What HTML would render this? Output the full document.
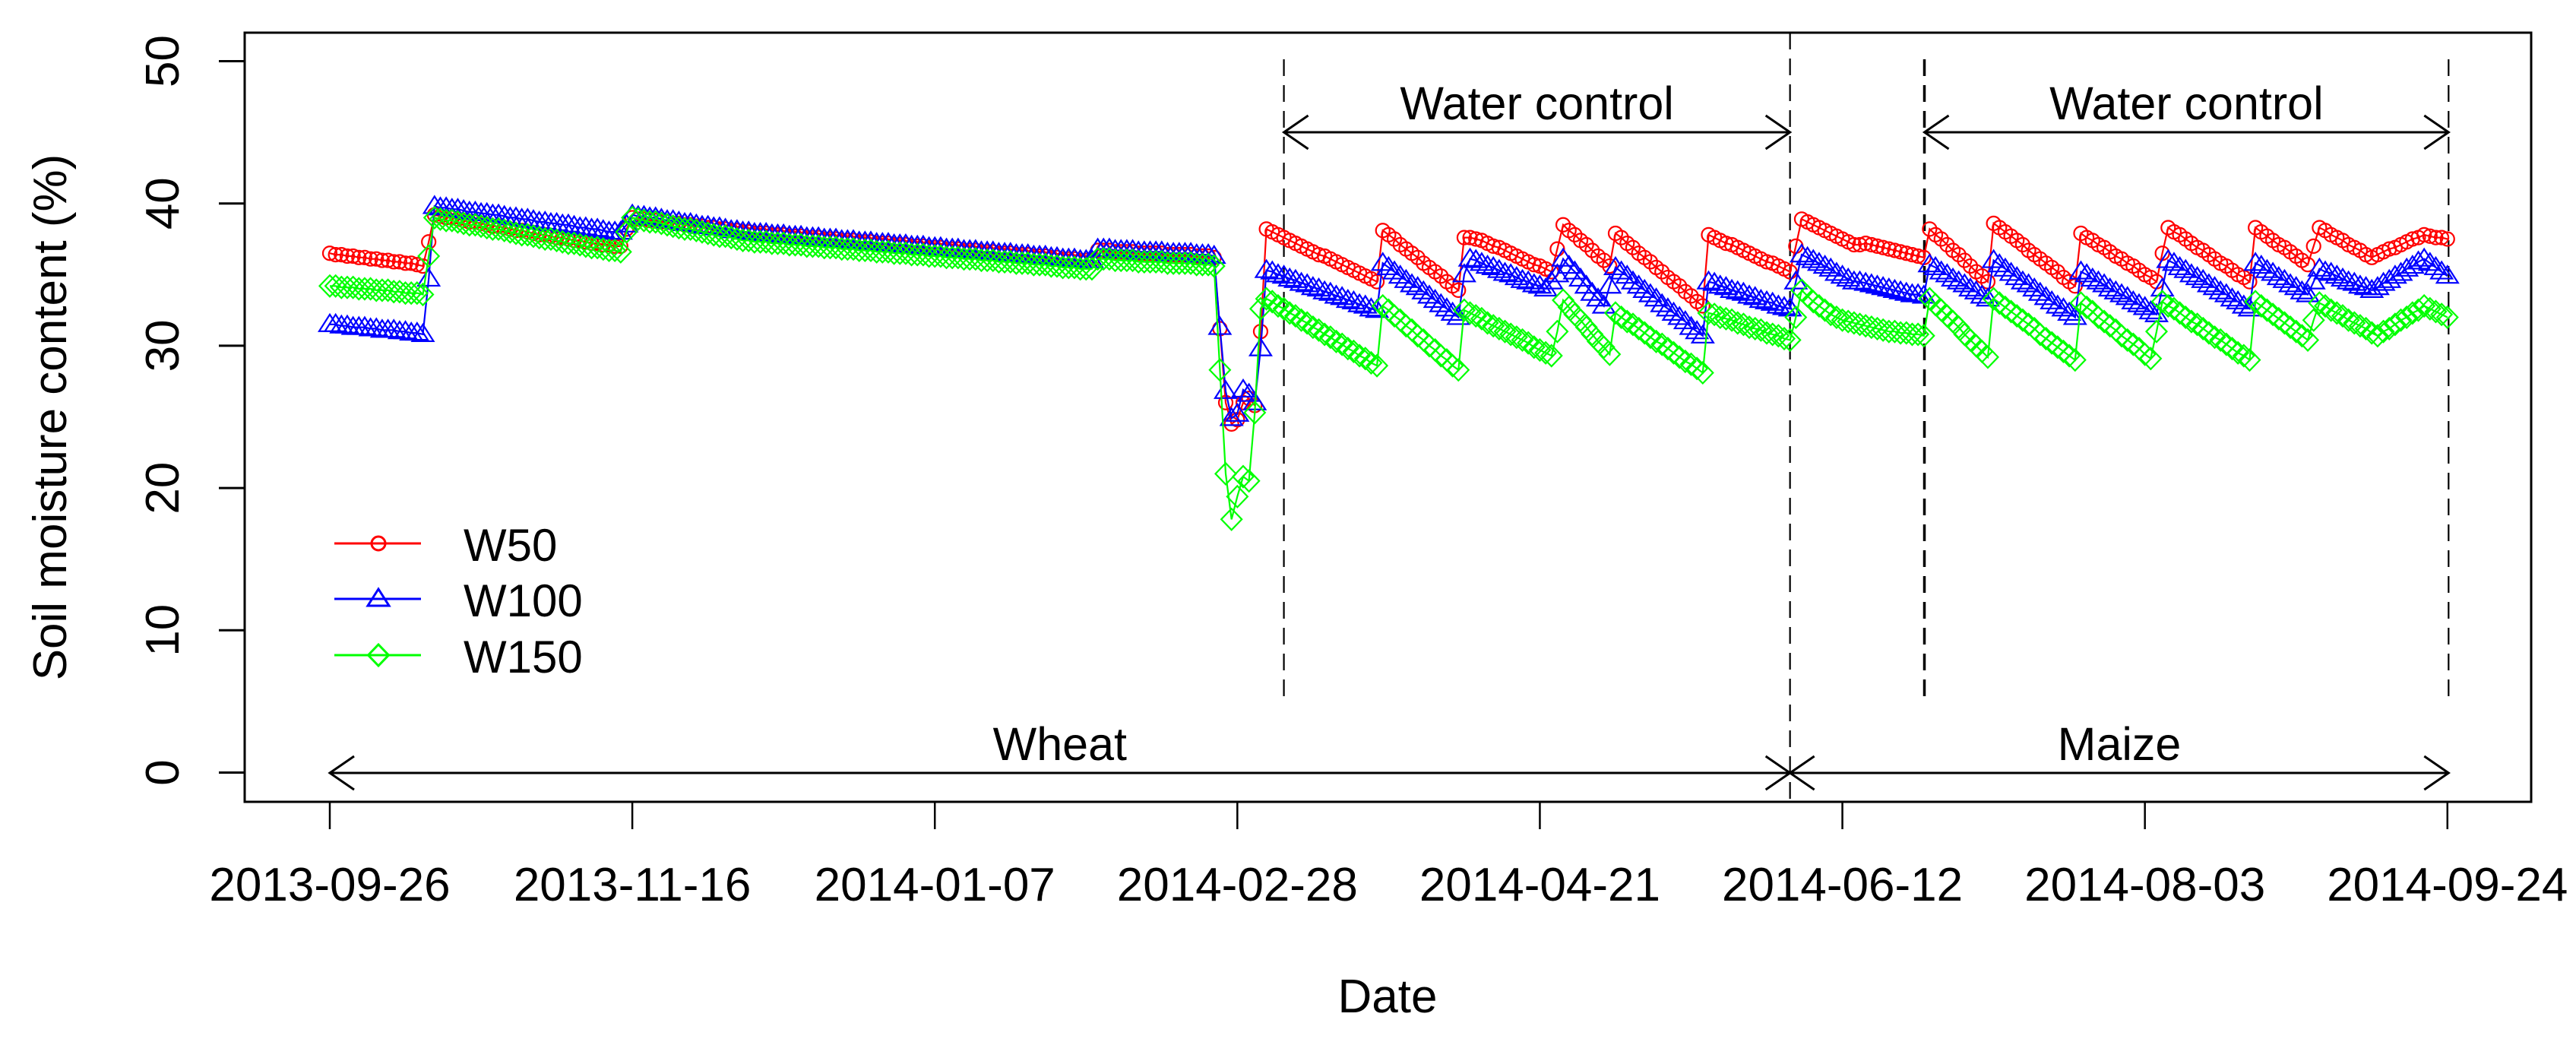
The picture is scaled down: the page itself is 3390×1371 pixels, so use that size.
<!DOCTYPE html>
<html><head><meta charset="utf-8"><style>
html,body{margin:0;padding:0;background:#fff;}
svg{display:block;font-family:"Liberation Sans",Arial,sans-serif;}
</style></head><body>
<svg id="chart" xmlns="http://www.w3.org/2000/svg" width="3390" height="1371" viewBox="0 0 3390 1371">
<rect x="0" y="0" width="3390" height="1371" fill="#fff"/>
<g id="annot"></g>
<g id="series"></g>
<g id="axes"></g>
<g id="legend"></g>
</svg>
<script>
// ---- data (day index 0 = 2013-09-26) ----
const tickLabels = ["2013-09-26","2013-11-16","2014-01-07","2014-02-28","2014-04-21","2014-06-12","2014-08-03","2014-09-24"];
const tickDays = [0,52,104,156,208,260,312,364];
const yTicks = [0,10,20,30,40,50];
const seriesNames = ["W50","W100","W150"];
const w50 = [
36.5,36.4,36.4,36.3,36.3,36.2,36.2,36.1,36.1,36.0,36.0,35.9,35.9,35.8,35.8,35.7,35.6,
37.3,39.2,
39.1,39.0,39.0,38.9,38.8,38.7,38.7,38.6,38.5,38.4,38.4,38.3,38.2,38.1,38.1,38.0,37.9,37.8,37.8,37.7,37.6,37.6,37.5,37.4,37.4,37.3,37.2,37.2,37.1,37.1,37.0,37.0,
38.2,39.0,
38.9,38.9,38.8,38.8,38.7,38.7,38.6,38.6,38.5,38.5,38.4,38.4,38.3,38.3,38.2,38.2,38.1,38.1,38.0,
38.0,37.9,37.9,37.9,37.8,37.8,37.8,37.7,37.7,37.7,37.6,37.6,37.6,37.5,37.5,37.5,37.4,37.4,37.4,37.3,37.3,37.3,37.2,37.2,37.2,37.1,37.1,37.1,37.0,37.0,37.0,36.9,36.9,36.9,36.8,36.8,36.8,36.7,36.7,36.7,36.6,36.6,36.6,36.5,36.5,36.5,36.4,36.4,36.4,36.3,36.3,36.3,36.2,
36.2,36.1,36.1,36.1,36.0,36.0,36.0,
36.7,36.7,36.7,36.6,36.6,36.6,36.6,36.5,36.5,36.5,36.5,36.5,36.4,36.4,36.4,36.4,36.4,36.3,36.3,36.3,36.2,
31.2,26.0,24.5,24.8,26.0,26.3,25.8,31.0,38.2,
38.0,37.8,37.6,37.4,37.2,37.0,36.8,36.6,36.4,36.3,36.1,35.9,35.7,35.5,35.3,35.1,34.9,34.7,34.5,
38.1,
37.8,37.5,37.1,36.8,36.5,36.2,35.8,35.5,35.2,34.9,34.5,34.2,33.9,
37.6,37.6,37.5,37.4,
37.2,37.0,36.9,36.7,36.5,36.3,36.1,35.9,35.7,35.6,35.4,35.2,
36.8,38.5,
38.1,37.8,37.4,37.1,36.7,36.3,36.0,35.6,
37.9,
37.6,37.2,36.9,36.5,36.2,35.9,35.5,35.2,34.8,34.5,34.2,33.8,33.5,33.1,32.8,
37.8,
37.6,37.4,37.2,37.1,36.9,36.7,36.5,36.3,36.1,35.9,35.8,35.6,35.4,35.2,
37.0,38.9,
38.7,38.5,38.3,38.1,37.9,37.7,37.5,37.3,37.1,
37.1,37.2,37.1,37.0,36.9,36.8,36.7,36.6,36.5,36.4,36.3,36.2,
38.2,
37.8,37.5,37.1,36.7,36.4,36.0,35.6,35.2,34.9,34.5,
38.6,
38.3,38.0,37.7,37.4,37.1,36.7,36.4,36.1,35.8,35.5,35.2,34.8,34.5,34.2,
37.9,
37.6,37.4,37.1,36.9,36.6,36.3,36.1,35.8,35.6,35.3,35.0,34.8,34.5,
36.5,38.3,
38.0,37.8,37.5,37.2,36.9,36.7,36.4,36.1,35.8,35.6,35.3,35.0,34.8,34.5,
38.3,
38.0,37.7,37.4,37.1,36.9,36.6,36.3,36.0,35.7,
37.0,38.3,
38.1,37.8,37.6,37.4,37.1,36.9,36.7,36.4,36.2,
36.4,36.6,36.8,36.9,37.1,37.3,37.5,37.6,37.8,
37.7,37.6,37.6,37.5];
const w100 = [
31.5,31.5,31.4,31.4,31.3,31.3,31.3,31.2,31.2,31.1,31.1,31.1,31.0,31.0,30.9,30.9,30.8,
34.7,39.8,
39.7,39.7,39.6,39.6,39.5,39.4,39.4,39.3,39.3,39.2,39.2,39.1,39.0,39.0,38.9,38.9,38.8,38.7,38.7,38.6,38.6,38.5,38.5,38.4,38.3,38.3,38.2,38.2,38.1,38.0,38.0,38.0,
38.5,39.2,
39.1,39.1,39.0,39.0,38.9,38.8,38.8,38.7,38.6,38.6,38.5,38.4,38.4,38.3,38.3,38.2,38.1,38.1,38.0,
38.0,37.9,37.9,37.9,37.8,37.8,37.8,37.7,37.7,37.7,37.6,37.6,37.6,37.5,37.5,37.5,37.4,37.4,37.4,37.3,37.3,37.3,37.2,37.2,37.2,37.1,37.1,37.1,37.0,37.0,37.0,36.9,36.9,36.9,36.8,36.8,36.8,36.7,36.7,36.7,36.6,36.6,36.6,36.5,36.5,36.5,36.4,36.4,36.4,36.3,36.3,36.3,36.2,
36.2,36.1,36.1,36.1,36.0,36.0,36.0,
36.8,36.8,36.8,36.7,36.7,36.7,36.7,36.6,36.6,36.6,36.6,36.6,36.5,36.5,36.5,36.5,36.5,36.4,36.4,36.4,36.3,
31.3,26.8,24.9,25.2,26.9,26.6,26.0,29.8,35.3,
35.2,35.0,34.9,34.7,34.6,34.4,34.3,34.1,34.0,33.8,33.7,33.5,33.4,33.2,33.1,32.9,32.8,32.6,32.5,
35.8,
35.5,35.2,34.9,34.6,34.3,34.1,33.8,33.5,33.2,32.9,32.6,32.3,32.0,
35.0,36.1,
36.0,35.8,35.6,35.5,35.3,35.1,35.0,34.8,34.6,34.5,34.3,34.2,34.0,
34.5,35.0,36.1,
35.6,35.2,34.7,34.2,33.7,33.3,32.8,
34.2,35.5,
35.2,34.9,34.5,34.2,33.9,33.6,33.3,32.9,32.6,32.3,32.0,31.7,31.3,31.0,30.7,
34.5,
34.4,34.2,34.1,33.9,33.8,33.7,33.5,33.4,33.2,33.1,33.0,32.8,32.7,32.6,
34.5,36.4,
36.2,36.0,35.8,35.6,35.4,35.1,34.9,34.7,34.5,
34.5,34.4,34.3,34.2,34.1,34.0,33.9,33.8,33.7,33.6,33.6,33.5,
35.7,
35.5,35.2,35.0,34.7,34.5,34.3,34.0,33.8,33.5,33.3,
36.0,
35.7,35.4,35.1,34.8,34.5,34.3,34.0,33.7,33.4,33.1,32.8,32.6,32.3,32.0,
35.2,
35.0,34.7,34.5,34.3,34.0,33.8,33.6,33.4,33.1,32.9,32.7,32.4,32.2,
34.0,36.0,
35.8,35.5,35.3,35.0,34.8,34.6,34.3,34.1,33.8,33.6,33.3,33.1,32.8,32.6,
35.8,
35.6,35.3,35.1,34.8,34.6,34.3,34.1,33.8,33.6,
34.5,35.4,
35.2,35.1,34.9,34.7,34.5,34.4,34.2,34.1,33.9,
34.1,34.4,34.6,34.9,35.1,35.4,35.6,35.9,36.1,
35.8,35.5,35.2,34.9];
const w150 = [
34.2,34.2,34.1,34.1,34.1,34.0,34.0,34.0,33.9,33.9,33.9,33.8,33.8,33.7,33.7,33.7,33.6,
36.3,39.0,
38.9,38.8,38.8,38.7,38.6,38.5,38.5,38.4,38.3,38.2,38.2,38.1,38.0,37.9,37.8,37.8,37.7,37.6,37.5,37.5,37.4,37.3,37.2,37.2,37.1,37.0,36.9,36.9,36.8,36.7,36.7,36.6,
38.0,39.0,
38.9,38.8,38.7,38.7,38.6,38.5,38.4,38.3,38.2,38.2,38.1,38.0,37.9,37.8,37.7,37.7,37.6,37.5,37.4,
37.4,37.3,37.3,37.3,37.2,37.2,37.2,37.1,37.1,37.1,37.0,37.0,37.0,36.9,36.9,36.9,36.8,36.8,36.8,36.7,36.7,36.7,36.6,36.6,36.6,36.5,36.5,36.5,36.4,36.4,36.4,36.3,36.3,36.3,36.2,36.2,36.2,36.1,36.1,36.1,36.0,36.0,36.0,35.9,35.9,35.9,35.8,35.8,35.8,35.7,35.7,35.7,35.6,
35.6,35.5,35.5,35.5,35.4,35.4,35.4,
36.1,36.1,36.1,36.0,36.0,36.0,36.0,35.9,35.9,35.9,35.9,35.9,35.8,35.8,35.8,35.8,35.8,35.7,35.7,35.7,35.6,
28.3,21.0,17.8,19.4,20.8,20.5,25.3,32.6,33.3,
33.1,32.8,32.6,32.3,32.1,31.8,31.6,31.3,31.1,30.8,30.6,30.3,30.1,29.8,29.6,29.3,29.1,28.8,28.6,
32.8,
32.5,32.1,31.8,31.4,31.1,30.7,30.4,30.0,29.7,29.3,29.0,28.6,28.3,
32.5,
32.3,32.1,31.9,31.6,31.4,31.2,31.0,30.8,30.6,30.4,30.2,29.9,29.7,29.5,29.3,
31.0,33.2,
32.7,32.2,31.8,31.3,30.8,30.3,29.9,29.4,
32.3,
32.0,31.7,31.5,31.2,30.9,30.6,30.3,30.1,29.8,29.5,29.2,28.9,28.7,28.4,28.1,
32.3,
32.2,32.0,31.9,31.8,31.6,31.5,31.3,31.2,31.1,30.9,30.8,30.7,30.5,30.4,
32.0,33.9,
33.5,33.1,32.8,32.5,32.2,32.0,31.8,31.7,31.6,31.5,31.4,31.3,31.2,31.1,31.0,31.0,30.9,30.9,30.8,30.8,30.7,
33.3,
32.9,32.5,32.1,31.7,31.3,30.8,30.4,30.0,29.6,29.2,
33.3,
33.0,32.7,32.4,32.1,31.8,31.5,31.2,30.8,30.5,30.2,29.9,29.6,29.3,29.0,
33.0,
32.7,32.4,32.0,31.7,31.4,31.1,30.7,30.4,30.1,29.8,29.4,29.1,
31.0,33.1,
32.8,32.6,32.3,32.0,31.7,31.5,31.2,30.9,30.6,30.4,30.1,29.8,29.5,29.3,29.0,
33.1,
32.8,32.5,32.2,31.9,31.6,31.3,31.0,30.7,30.4,
31.8,33.0,
32.8,32.5,32.3,32.1,31.8,31.6,31.4,31.2,30.9,30.7,
31.0,31.2,31.5,31.8,32.0,32.3,32.5,32.8,
32.6,32.4,32.2,32.0];
// annotation periods in days
const wheatPeriod = [0, 251];
const maizePeriod = [251, 364.2];
const waterControl1 = [164, 251];
const waterControl2 = [274.1, 364.2];

const NS = "http://www.w3.org/2000/svg";
const X0 = 434, PXD = 7.656, Y0 = 1016.5, PXV = 18.72;
function xS(d){ return X0 + d * PXD; }
function yS(v){ return Y0 - v * PXV; }
function mk(tag, attrs, parent){
  const e = document.createElementNS(NS, tag);
  for (const k in attrs) e.setAttribute(k, attrs[k]);
  parent.appendChild(e);
  return e;
}
const axes = document.getElementById('axes');
const annot = document.getElementById('annot');
const seriesG = document.getElementById('series');
const legend = document.getElementById('legend');

// plot box
let box = mk('rect', {x:322, y:43, width:3009, height:1012, fill:'none', stroke:'#000', 'stroke-width':3}, axes);



// y ticks
yTicks.forEach(v => {
  const y = yS(v);
  const t = mk('line', {x1:288, x2:322, y1:y, y2:y, stroke:'#000', 'stroke-width':3}, axes);
  
  
  const lb = mk('text', {x:235, y:y, 'font-size':62, 'text-anchor':'middle', transform:`rotate(-90 235 ${y})`}, axes);
  lb.textContent = String(v);
  
  
});
// x ticks
tickDays.forEach((d, i) => {
  const x = xS(d);
  const t = mk('line', {x1:x, x2:x, y1:1055, y2:1091, stroke:'#000', 'stroke-width':2.5}, axes);
  
  
  const lb = mk('text', {x:x, y:1185, 'font-size':62, 'text-anchor':'middle'}, axes);
  lb.textContent = tickLabels[i];
  
  
});
let xt = mk('text', {x:1826, y:1332, 'font-size':62, 'text-anchor':'middle'}, axes);
xt.textContent = 'Date';


let yt = mk('text', {x:87, y:549, 'font-size':62, 'text-anchor':'middle', transform:'rotate(-90 87 549)'}, axes);
yt.textContent = 'Soil moisture content (%)';



// dashed lines
function vdash(d, y1, y2, w, name){
  const l = mk('line', {x1:xS(d), x2:xS(d), y1:y1, y2:y2, stroke:'#000', 'stroke-width':w, 'stroke-dasharray':'22,12'}, annot);
  
  
}
vdash(waterControl1[0], 78, 926, 2.2, 'water-control-start-line');
vdash(wheatPeriod[1], 43, 1055, 2.2, 'crop-boundary-line');
vdash(waterControl2[0], 78, 922, 3.5, 'water-control-start-line-2');
vdash(waterControl2[1], 78, 926, 2.2, 'water-control-end-line');

function arrow(d1, d2, y, name){
  const x1 = xS(d1), x2 = xS(d2);
  const g = mk('g', {stroke:'#000', 'stroke-width':3, fill:'none'}, annot);
  
  
  mk('line', {x1:x1, x2:x2, y1:y, y2:y}, g);
  mk('polyline', {points:`${x1+32},${y-22} ${x1},${y} ${x1+32},${y+22}`}, g);
  mk('polyline', {points:`${x2-32},${y-22} ${x2},${y} ${x2-32},${y+22}`}, g);
}
arrow(wheatPeriod[0], wheatPeriod[1], 1017, 'wheat-arrow');
arrow(maizePeriod[0], maizePeriod[1], 1017, 'maize-arrow');
arrow(waterControl1[0], waterControl1[1], 174, 'water-control-arrow-1');
arrow(waterControl2[0], waterControl2[1], 174, 'water-control-arrow-2');

function label(txt, d1, d2, y, name){
  const t = mk('text', {x:(xS(d1)+xS(d2))/2, y:y, 'font-size':61, 'text-anchor':'middle'}, annot);
  t.textContent = txt;
  
  
}
label('Water control', waterControl1[0], waterControl1[1], 157, 'water-control-label-1');
label('Water control', waterControl2[0], waterControl2[1], 157, 'water-control-label-2');
label('Wheat', wheatPeriod[0], wheatPeriod[1], 1000, 'wheat-label');
label('Maize', maizePeriod[0], maizePeriod[1], 1000, 'maize-label');

// markers
function marker(shape, x, y, color, parent){
  let e;
  if (shape === 'circle') e = mk('circle', {cx:x, cy:y, r:9}, parent);
  else if (shape === 'triangle') e = mk('polygon', {points:`${x},${y-13} ${x-14},${y+9} ${x+14},${y+9}`}, parent);
  else e = mk('polygon', {points:`${x},${y-14} ${x+13.5},${y} ${x},${y+14} ${x-13.5},${y}`}, parent);
  return e;
}
const seriesData = [w50, w100, w150];
const colors = ['#ff0000', '#0000ff', '#00ff00'];
const shapes = ['circle', 'triangle', 'diamond'];
seriesData.forEach((arr, si) => {
  const g = mk('g', {stroke:colors[si], fill:'none', 'stroke-width':2.2}, seriesG);
  
  
  const pts = arr.map((v, d) => xS(d).toFixed(1) + ',' + yS(v).toFixed(1)).join(' ');
  const pl = mk('polyline', {points:pts}, g);
  
  
  arr.forEach((v, d) => {
    const m = marker(shapes[si], xS(d), yS(v), colors[si], g);
    
    
  });
});

// legend
const legendRows = [715, 788, 862];
seriesNames.forEach((nm, i) => {
  const y = legendRows[i];
  const g = mk('g', {}, legend);
  
  
  const gl = mk('g', {stroke:colors[i], fill:'none', 'stroke-width':3}, g);
  mk('line', {x1:440, x2:554, y1:y, y2:y}, gl);
  marker(shapes[i], 498, y, colors[i], gl);
  const t = mk('text', {x:610, y:y+23, 'font-size':60}, g);
  t.textContent = nm;
  
  
});
</script>
</body></html>
